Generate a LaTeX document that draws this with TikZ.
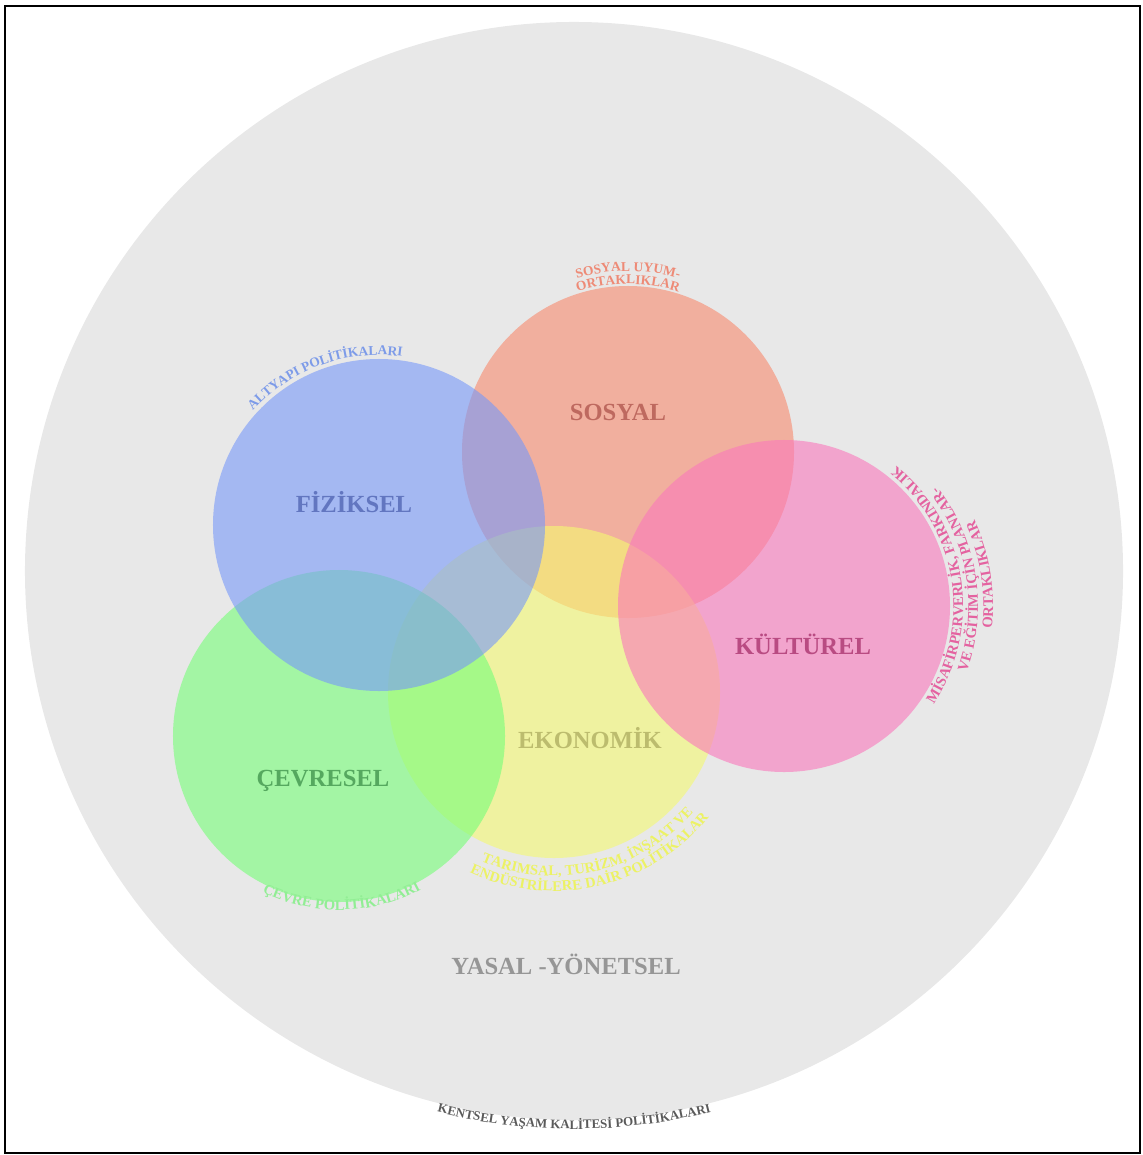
\documentclass[tikz,border=0pt]{standalone}
\usepackage{fontspec}
\setmainfont{Liberation Serif}
\usetikzlibrary{decorations.text}
\definecolor{ringgray}{RGB}{232,232,232}
\definecolor{fizfill}{RGB}{119,152,249}
\definecolor{sosfill}{RGB}{247,137,109}
\definecolor{kulfill}{RGB}{250,120,187}
\definecolor{ekofill}{RGB}{245,250,112}
\definecolor{cevfill}{RGB}{117,254,120}
\definecolor{fiztext}{RGB}{98,118,192}
\definecolor{sostext}{RGB}{190,105,95}
\definecolor{kultext}{RGB}{185,75,130}
\definecolor{ekotext}{RGB}{188,188,110}
\definecolor{cevtext}{RGB}{85,168,95}
\definecolor{yastext}{RGB}{150,150,150}
\definecolor{fizarc}{RGB}{125,155,232}
\definecolor{sosarc}{RGB}{238,138,118}
\definecolor{kularc}{RGB}{228,98,160}
\definecolor{ekoarc}{RGB}{236,242,100}
\definecolor{cevarc}{RGB}{145,238,148}
\definecolor{kenarc}{RGB}{90,90,90}
\newcommand{\bigfont}{\fontsize{21}{24}\selectfont\bfseries}
\newcommand{\arcfont}{\fontsize{11.5}{13}\selectfont\bfseries}
\newcommand{\arcfontwide}{\fontsize{12.5}{14}\selectfont\bfseries}
\newcommand{\arcfontsmall}{\fontsize{11}{13}\selectfont\bfseries}
\begin{document}
\begin{tikzpicture}[x=0.03cm,y=0.03cm,area/.style={circle,inner sep=0pt,fill opacity=0.6,minimum size=9.96cm}]
		\tikzstyle{dimlabel}=[font=\bigfont]
		\tikzstyle{arclabel}=[decorate,decoration={text along path,text align=center}]
		\useasboundingbox (0,0) rectangle (1142,-1155);
		\draw[line width=0.06cm] (5,-6) rectangle (1140,-1153);
		
		\node[circle,inner sep=0pt,fill=ringgray,minimum size=32.94cm] (ken) at (574,-571) {};
		\node[area,fill=sosfill] (sos) at (628,-452) {};
		\node[area,fill=ekofill] (eko) at (554,-692) {};
		\node[area,fill=cevfill] (cev) at (339,-736) {};
		\node[area,fill=fizfill] (fiz) at (379,-525) {};
		\node[area,fill=kulfill] (kul) at (784,-606) {};
		
		\node[dimlabel,text=fiztext] (fizl) at (354,-502) {FİZİKSEL};
		\node[dimlabel,text=sostext] (sosl) at (618,-412) {SOSYAL};
		\node[dimlabel,text=kultext] (kull) at (803,-644) {KÜLTÜREL};
		\node[dimlabel,text=ekotext] (ekol) at (590,-738) {EKONOMİK};
		\node[dimlabel,text=cevtext] (cevl) at (323,-781) {ÇEVRESEL};
		\node[dimlabel,text=yastext] (yasl) at (566,-964) {YASAL -YÖNETSEL};
		
		\path[arclabel,decoration={text={|\arcfont|ALTYAPI POLİTİKALARI},text color=fizarc}]
			(fiz.center) ++(150:170) arc[start angle=150,end angle=70,radius=170];
		\path[arclabel,decoration={text={|\arcfont|SOSYAL UYUM-},text color=sosarc}]
			(sos.center) ++(140:181) arc[start angle=140,end angle=40,radius=181];
		\path[arclabel,decoration={text={|\arcfont|ORTAKLIKLAR},text color=sosarc}]
			(sos.center) ++(140:168) arc[start angle=140,end angle=40,radius=168];
		\foreach \r/\t in {179/{MİSAFİRPERVERLİK, FARKINDALIK},194/{VE EĞİTİM İÇİN PLANLAR-},209/{ORTAKLIKLAR}}
		{\path[arclabel,decoration={text={|\arcfontwide|\t},text color=kularc}]
			(kul.center) ++(-60:\r) arc[start angle=-60,end angle=78,radius=\r];}
		\path[arclabel,decoration={text={|\arcfontwide|TARIMSAL, TURİZM, İNŞAAT VE},text color=ekoarc}]
			(eko.center) ++(-140:184) arc[start angle=-140,end angle=-14,radius=184];
		\path[arclabel,decoration={text={|\arcfontwide|ENDÜSTRİLERE DAİR POLİTİKALAR},text color=ekoarc}]
			(eko.center) ++(-140:199) arc[start angle=-140,end angle=-14,radius=199];
		\path[arclabel,decoration={text={|\arcfontwide|ÇEVRE POLİTİKALARI},text color=cevarc}]
			(cev.center) ++(-130:174) arc[start angle=-130,end angle=-48,radius=174];
		\path[arclabel,decoration={text={|\arcfontsmall|KENTSEL YAŞAM KALİTESİ POLİTİKALARI},text color=kenarc}]
			(ken.center) ++(-110:558) arc[start angle=-110,end angle=-70,radius=558];
		
\end{tikzpicture}
\end{document}
